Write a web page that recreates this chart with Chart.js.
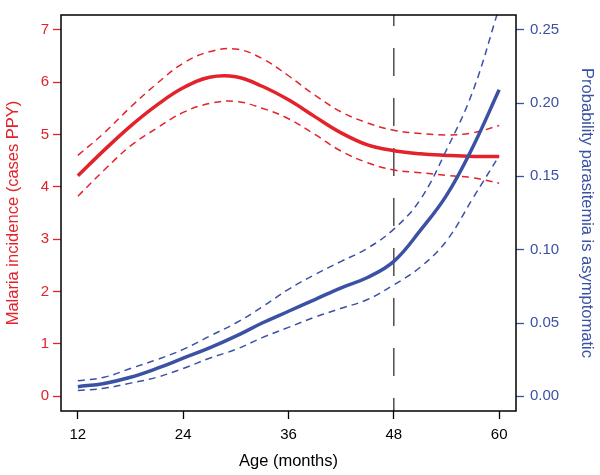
<!DOCTYPE html>
<html>
<head>
<meta charset="utf-8">
<script src="https://cdn.jsdelivr.net/npm/chart.js@4.4.0/dist/chart.umd.min.js"></script>
<style>
  html, body { margin: 0; padding: 0; background: #fff; }
  canvas { display: block; }
</style>
</head>
<body>
<canvas id="chart" width="600" height="475"></canvas>
<script>
// ages (months) the curves were read at
const ages = [12, 15, 18, 21, 24, 27, 30, 33, 36, 39, 42, 45, 48, 51, 54, 57, 60];

// malaria incidence, cases PPY (left axis)
const incidence      = [4.21, 4.70, 5.16, 5.56, 5.89, 6.09, 6.10, 5.92, 5.66, 5.34, 5.03, 4.80, 4.69, 4.63, 4.60, 4.58, 4.58];
const incidenceUpper = [4.60, 5.03, 5.52, 5.97, 6.36, 6.58, 6.63, 6.45, 6.12, 5.75, 5.43, 5.22, 5.08, 5.02, 4.99, 5.03, 5.17];
const incidenceLower = [3.82, 4.32, 4.78, 5.12, 5.42, 5.59, 5.63, 5.50, 5.30, 5.00, 4.68, 4.46, 4.32, 4.27, 4.22, 4.17, 4.07];

// probability parasitemia is asymptomatic (right axis)
const asymp      = [0.0066, 0.0088, 0.013, 0.019, 0.026, 0.033, 0.041, 0.050, 0.058, 0.066, 0.074, 0.081, 0.092, 0.113, 0.137, 0.170, 0.209];
const asympUpper = [0.0106, 0.013, 0.019, 0.025, 0.032, 0.041, 0.050, 0.061, 0.073, 0.083, 0.092, 0.101, 0.114, 0.134, 0.168, 0.208, 0.265];
const asympLower = [0.004, 0.0055, 0.009, 0.013, 0.019, 0.026, 0.032, 0.040, 0.047, 0.054, 0.060, 0.066, 0.076, 0.088, 0.106, 0.135, 0.164];

const xTicks = [12, 24, 36, 48, 60];
const leftTicks = [0, 1, 2, 3, 4, 5, 6, 7];
const rightTicks = [0, 0.05, 0.10, 0.15, 0.20, 0.25];
const cutoffAge = 48;

const RED = "#e3232b";
const BLUE = "#3b51a3";
const FONT = "'Liberation Sans', Arial, Helvetica, sans-serif";

function pts(vals) {
  return ages.map((a, i) => ({ x: a, y: vals[i] }));
}

function line(vals, color, axis, dashed) {
  return {
    data: pts(vals),
    yAxisID: axis,
    borderColor: color,
    borderWidth: dashed ? 1.5 : 3.5,
    borderDash: dashed ? [7, 5] : [],
    pointRadius: 0,
    fill: false,
    tension: 0.4,
    clip: 0,
  };
}

// box round the plot and the dashed line at 48 months
const boxPlugin = {
  id: "box",
  beforeDatasetsDraw(chart) {
    const { ctx, chartArea: { top, bottom }, scales: { x } } = chart;
    const px = x.getPixelForValue(cutoffAge);
    ctx.save();
    ctx.strokeStyle = "#333";
    ctx.lineWidth = 1.3;
    ctx.setLineDash([28, 22]);
    ctx.lineDashOffset = 17;
    ctx.beginPath();
    ctx.moveTo(px, top);
    ctx.lineTo(px, bottom);
    ctx.stroke();
    ctx.restore();
  },
  afterDraw(chart) {
    const { ctx, chartArea: { top, bottom, left, right } } = chart;
    ctx.save();
    ctx.strokeStyle = "#000";
    ctx.lineWidth = 1.5;
    ctx.strokeRect(left, top, right - left, bottom - top);
    ctx.restore();
  },
};

function fixedTicks(list) {
  return (scale) => { scale.ticks = list.map((v) => ({ value: v })); };
}

const config = {
  type: "line",
  data: {
    datasets: [
      line(asymp, BLUE, "y1", false),
      line(asympUpper, BLUE, "y1", true),
      line(asympLower, BLUE, "y1", true),
      line(incidence, RED, "y", false),
      line(incidenceUpper, RED, "y", true),
      line(incidenceLower, RED, "y", true),
    ],
  },
  options: {
    responsive: false,
    animation: false,
    devicePixelRatio: 1,
    layout: { padding: { top: 4, left: 0, right: 0, bottom: 0 } },
    plugins: { legend: { display: false }, tooltip: { enabled: false } },
    scales: {
      x: {
        type: "linear",
        min: 10.08,
        max: 61.92,
        afterBuildTicks: fixedTicks(xTicks),
        afterFit(scale) { scale.height = 64; },
        border: { display: false },
        grid: { drawOnChartArea: false, drawTicks: true, tickLength: 8, tickColor: "#000", tickWidth: 1.3 },
        ticks: { color: "#000", padding: 7, maxRotation: 0, font: { family: FONT, size: 15 } },
        title: {
          display: true,
          text: "Age (months)",
          color: "#000",
          font: { family: FONT, size: 16.5 },
          padding: { top: 0, bottom: 4 },
        },
      },
      y: {
        type: "linear",
        position: "left",
        min: -0.28,
        max: 7.28,
        afterBuildTicks: fixedTicks(leftTicks),
        afterFit(scale) { scale.width = 61; },
        border: { display: false },
        grid: { drawOnChartArea: false, drawTicks: true, tickLength: 8, tickColor: RED, tickWidth: 1.3 },
        ticks: { color: RED, padding: 4, font: { family: FONT, size: 15 } },
        title: {
          display: true,
          text: "Malaria incidence (cases PPY)",
          color: RED,
          font: { family: FONT, size: 16.5 },
          padding: { top: 4, bottom: 0 },
        },
      },
      y1: {
        type: "linear",
        position: "right",
        min: -0.01,
        max: 0.26,
        afterBuildTicks: fixedTicks(rightTicks),
        afterFit(scale) { scale.width = 84; },
        border: { display: false },
        grid: { drawOnChartArea: false, drawTicks: true, tickLength: 8, tickColor: BLUE, tickWidth: 1.3 },
        ticks: {
          color: BLUE,
          padding: 6,
          font: { family: FONT, size: 15 },
          callback: (v) => v.toFixed(2),
        },
        title: {
          display: true,
          text: "Probability parasitemia is asymptomatic",
          color: BLUE,
          font: { family: FONT, size: 16.5 },
          padding: { top: 4, bottom: 0 },
        },
      },
    },
  },
  plugins: [boxPlugin],
};

new Chart(document.getElementById("chart"), config);
</script>
</body>
</html>
